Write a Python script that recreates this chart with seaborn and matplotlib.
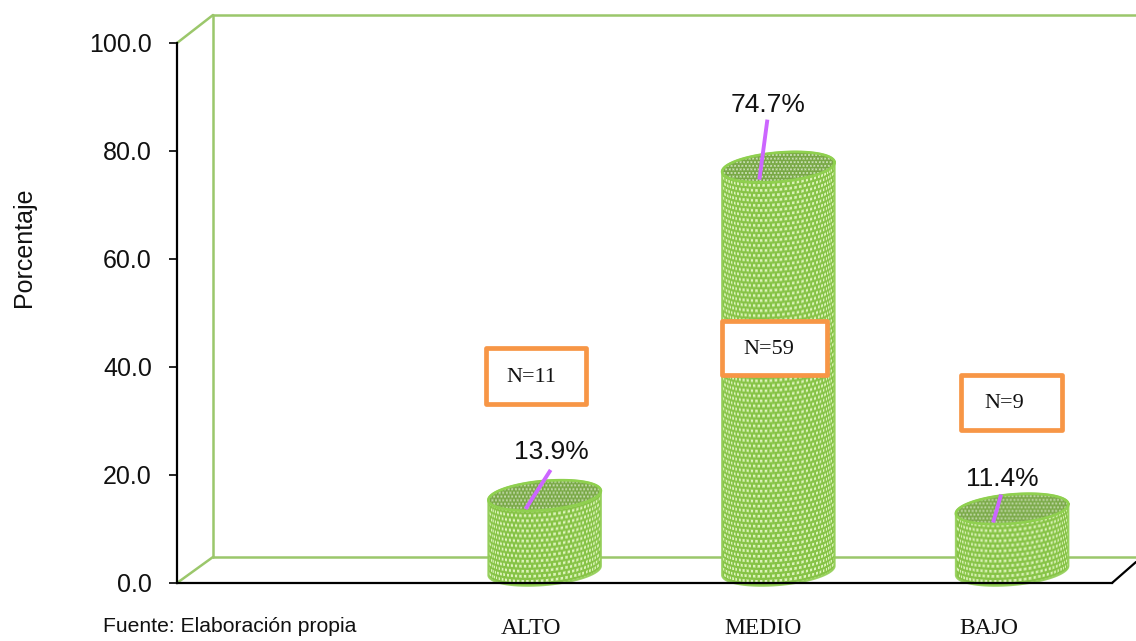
import numpy as np
import pandas as pd
import matplotlib
matplotlib.use("Agg")
import matplotlib.pyplot as plt
from matplotlib.patches import Rectangle
from matplotlib.path import Path
from matplotlib.transforms import Affine2D, IdentityTransform
from matplotlib.colors import to_rgb
import seaborn as sns

# Survey results by level
levels = ["", "ALTO", "MEDIO", "BAJO"]
percentages = [0.0, 13.9, 74.7, 11.4]
counts = [None, 11, 59, 9]

W, H = 1136, 641
DEPTH_X, DEPTH_Y = 17, 12.5        # cylinders stand halfway into the floor
SEMI_MINOR = 14.5
TILT = 5
BODY = "#86c346"

sns.set_theme(style="white")
plt.rcParams["font.family"] = ["Liberation Sans", "DejaVu Sans"]

fig = plt.figure(figsize=(W / 100, H / 100), dpi=100, facecolor="white")
ax = fig.add_axes([177 / W, (H - 583) / H, 935 / W, 540 / H])
ax.patch.set_visible(False)

df = pd.DataFrame({"nivel": levels, "pct": percentages})
sns.barplot(data=df, x="nivel", y="pct", order=levels, width=0.483,
            color=BODY, saturation=1, ax=ax, zorder=3)
ax.set_xlim(-0.5, 3.5)
ax.set_ylim(0, 100)

# top-left pixel coordinates for the chart box decoration
px = Affine2D().scale(1, -1).translate(0, H)
WALL = "#9bc76b"
for xs, ys in [([213, 1136], [15, 15]), ([213, 213], [15, 557]),
               ([213, 1136], [557, 557]), ([177, 213], [43, 15]),
               ([177, 213], [583, 557])]:
    ax.plot(xs, ys, color=WALL, lw=1.8, transform=px, clip_on=False, zorder=1)
ax.plot([1112, 1136], [583, 562], color="black", lw=1.6, transform=px,
        clip_on=False, zorder=1)

to_display = ax.transData.transform
inv = ax.transData.inverted().transform
shift = Affine2D().translate(DEPTH_X, DEPTH_Y)


def rim(cx, cy, a, t):
    th = np.radians(TILT)
    return np.column_stack([cx + a * np.cos(t) * np.cos(th) - SEMI_MINOR * np.sin(t) * np.sin(th),
                            cy + a * np.cos(t) * np.sin(th) + SEMI_MINOR * np.sin(t) * np.cos(th)])


def dot_layer(x_range, y_range, cx, a, period, size, dot, wrap):
    """Staggered dot screen; with wrap=True the rows and columns follow the round body."""
    xs = np.arange(x_range[0], x_range[1]) + 0.5
    ys = np.arange(y_range[0], y_range[1]) + 0.5
    X, Y = np.meshgrid(xs, ys)
    n = np.clip((X - cx) / a, -0.999, 0.999)
    if wrap:
        u = a * np.arcsin(n)
        v = Y + SEMI_MINOR * np.sqrt(1 - n ** 2) - (X - cx) * np.tan(np.radians(TILT))
    else:
        u, v = X - cx, Y
    row = np.floor((v + period / 2) / period)
    u = u + (row % 2) * period / 2
    du = np.abs(((u + period / 2) % period) - period / 2)
    dv = np.abs(((v + period / 2) % period) - period / 2)
    mask = np.clip(size / 2 + 0.5 - np.maximum(du, dv), 0, 1)
    return np.dstack([np.full(mask.shape + (3,), to_rgb(dot)), mask])


def place(img, x_range, y_range, clip, z):
    (ex0, ey0), (ex1, ey1) = inv([(x_range[0], y_range[0]), (x_range[1], y_range[1])])
    im = ax.imshow(img, extent=(ex0, ex1, ey0, ey1), origin="lower", aspect="auto",
                   zorder=z, interpolation="bilinear")
    im.set_clip_path(clip, IdentityTransform())


for i, bar in enumerate(b for b in ax.patches if b.get_height() > 0):
    value = percentages[i + 1]
    x0, x1 = bar.get_x(), bar.get_x() + bar.get_width()
    (lx, by), (rx, ty) = to_display([(x0, 0), (x1, value)])
    lx += DEPTH_X
    rx += DEPTH_X
    by += DEPTH_Y
    ty += DEPTH_Y
    cx = (lx + rx) / 2
    a = (rx - lx) / 2

    outline = np.vstack([rim(cx, ty, a, np.linspace(0, np.pi, 40)),
                         rim(cx, by, a, np.linspace(np.pi, 2 * np.pi, 40))])
    outline = np.vstack([outline, outline[:1]])
    body = Path(outline)

    ax.fill(outline[:, 0], outline[:, 1], color=BODY, lw=0,
            transform=IdentityTransform(), clip_on=False, zorder=2.5)
    bar.set_transform(ax.transData + shift)
    bar.set_linewidth(0)
    bar.set_clip_path(body, IdentityTransform())

    xr = (int(lx) - 4, int(rx) + 5)
    yr = (int(by - SEMI_MINOR) - 8, int(ty + SEMI_MINOR) + 8)
    place(dot_layer(xr, yr, cx, a, 5.0, 2.6, "#dff5bd", True), xr, yr, body, 3.2)

    # soft shadow at both sides of the body
    shade = np.zeros((1, 200, 4))
    shade[..., :3] = (0.30, 0.50, 0.10)
    shade[..., 3] = 0.55 * np.abs(np.linspace(-1, 1, 200)) ** 8
    place(shade, (lx, by - SEMI_MINOR - 8), (rx, ty + 8), body, 3.25)
    ax.plot(outline[:, 0], outline[:, 1], color="#94cf58", lw=1.5, alpha=0.9,
            transform=IdentityTransform(), clip_on=False, zorder=3.3)

    lid = rim(cx, ty, a, np.linspace(0, 2 * np.pi, 90))
    ax.fill(lid[:, 0], lid[:, 1], color="#78a845", lw=0, transform=IdentityTransform(),
            clip_on=False, zorder=3.5)
    xr = (int(lx) - 4, int(rx) + 5)
    yr = (int(ty - SEMI_MINOR) - 8, int(ty + SEMI_MINOR) + 8)
    place(dot_layer(xr, yr, cx, a, 3.6, 1.8, "#cbdfb5", False), xr, yr, Path(lid), 3.55)
    ax.plot(lid[:, 0], lid[:, 1], color="#8fd04f", lw=1.9,
            transform=IdentityTransform(), clip_on=False, zorder=3.6)

ax.set_xlim(-0.5, 3.5)
ax.set_ylim(0, 100)

# value callouts with their leader lines
leader_base = [(-19, -1), (-19, 0), (-19, -1)]
leader_tip = [(6, 38), (-11, 60), (-11, 27)]
label_offset = [(7, 56), (-10, 75), (-10, 42)]
for k, idx in enumerate([1, 2, 3]):
    v = percentages[idx]
    bx, by = to_display([(idx, v)])[0]
    bx += DEPTH_X
    sx, sy = bx + leader_base[k][0], by + leader_base[k][1]
    tx, ty = bx + leader_tip[k][0], by + leader_tip[k][1]
    ax.plot([sx, tx], [sy, ty], color="#cc66ff", lw=2.8, solid_capstyle="butt",
            transform=IdentityTransform(), clip_on=False, zorder=5)
    ax.text(bx + label_offset[k][0], by + label_offset[k][1], f"{v:.1f}%",
            transform=IdentityTransform(), ha="center", va="center",
            fontsize=19, color="#111111", zorder=6)

# sample-size boxes
boxes = [(486, 348, 100, 56, 531, 377), (722, 321, 105, 54, 769, 349),
         (961, 375, 101, 55, 1004, 404)]
for n, (bx, by, bw, bh, tx, ty) in zip(counts[1:], boxes):
    ax.add_patch(Rectangle((bx, by), bw, bh, transform=px, facecolor="white",
                           edgecolor="#f79646", lw=3.4, joinstyle="round",
                           clip_on=False, zorder=7))
    ax.text(tx, ty, f"N={n}", transform=px, ha="center", va="center",
            family="Liberation Serif", fontsize=16, color="#111111", zorder=8)

# axes
for side in ("top", "right"):
    ax.spines[side].set_visible(False)
for side in ("left", "bottom"):
    ax.spines[side].set_color("black")
    ax.spines[side].set_linewidth(1.6)
    ax.spines[side].set_zorder(4)
ax.set_yticks(np.arange(0, 101, 20))
ax.set_yticklabels([f"{t:.1f}" for t in np.arange(0, 101, 20)], fontsize=18,
                   color="#111111")
ax.tick_params(axis="y", left=True, length=5.5, width=1.2, color="black", pad=12.5)
ax.tick_params(axis="x", bottom=False, pad=19)
ax.set_xticks(range(4))
ax.set_xticklabels(levels, family="Liberation Serif", fontsize=17, color="#111111")
for label, nudge in zip(ax.get_xticklabels(), [0, 3, 2, -6]):
    label.set_transform(label.get_transform() + Affine2D().translate(nudge, 0))
ax.set_xlabel("")
ax.set_ylabel("")
ax.text(24, 247, "Porcentaje", transform=px, rotation=90, ha="center", va="center",
        fontsize=18, color="#111111")
ax.text(103, 627, "Fuente: Elaboración propia", transform=px, ha="left", va="center",
        fontsize=15.2, color="#111111")

fig.savefig("out.png", dpi=100)
